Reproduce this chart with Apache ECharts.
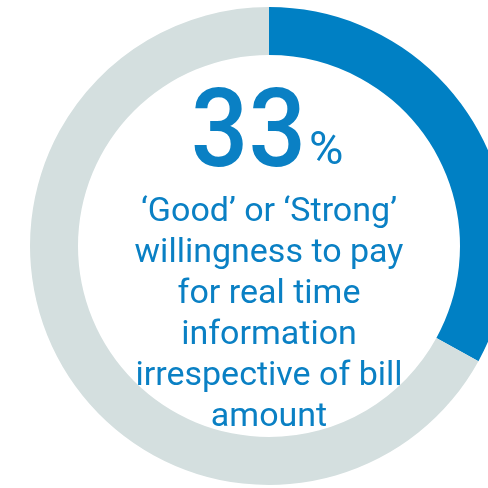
<!DOCTYPE html>
<html>
<head>
<meta charset="utf-8">
<script src="https://cdn.jsdelivr.net/npm/echarts@6/dist/echarts.min.js"></script>
<style>
  html, body { margin: 0; padding: 0; background: #ffffff; }
  #chart { width: 488px; height: 488px; }
</style>
</head>
<body>
<div id="chart"></div>
<script>
// Share of respondents with 'Good' or 'Strong' willingness to pay
const categories = ['Good or Strong', 'Other'];
const values = [33, 67];
const colors = ['#0080c4', '#d4dfdf'];
const captionLines = [
  '\u2018Good\u2019 or \u2018Strong\u2019',
  'willingness to pay',
  'for real time',
  'information',
  'irrespective of bill',
  'amount'
];

const chart = echarts.init(document.getElementById('chart'), null, { renderer: 'canvas' });
const textBlue = '#0a80c4';
const font = 'Roboto, "Noto Sans", sans-serif';

chart.setOption({
  animation: false,
  backgroundColor: '#ffffff',
  series: [{
    type: 'pie',
    center: [269, 246],
    radius: [191, 239],
    startAngle: 90,
    clockwise: true,
    silent: true,
    label: { show: false },
    labelLine: { show: false },
    itemStyle: { borderWidth: 0 },
    data: categories.map((name, i) => ({
      name: name,
      value: values[i],
      itemStyle: { color: colors[i] }
    }))
  }],
  graphic: [
    {
      // big percentage figure, slightly condensed
      type: 'text',
      x: 306,
      y: 139,
      scaleX: 0.93,
      style: {
        text: String(values[0]),
        align: 'right',
        verticalAlign: 'middle',
        fontSize: 109,
        fontWeight: 500,
        fontFamily: font,
        fill: textBlue
      }
    },
    {
      type: 'text',
      x: 309,
      y: 152,
      style: {
        text: '%',
        align: 'left',
        verticalAlign: 'middle',
        fontSize: 47,
        fontFamily: font,
        fill: textBlue
      }
    },
    {
      type: 'text',
      x: 269,
      y: 192,
      style: {
        text: captionLines.join('\n'),
        align: 'center',
        verticalAlign: 'top',
        fontSize: 34,
        lineHeight: 41,
        fontFamily: font,
        fill: textBlue
      }
    }
  ]
});
</script>
</body>
</html>
